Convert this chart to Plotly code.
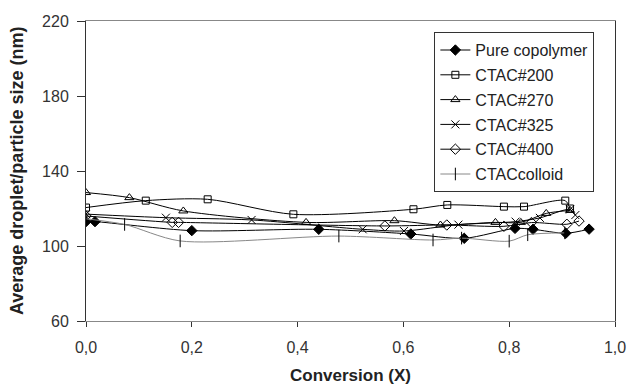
import plotly.graph_objects as go

x_pure = [0.0, 0.017, 0.2, 0.44, 0.614, 0.715, 0.811, 0.845, 0.907, 0.951]
y_pure = [113, 113, 108.2, 108.9, 106.4, 104.1, 109.4, 108.9, 106.8, 109.0]

x_200 = [0.0, 0.113, 0.23, 0.392, 0.619, 0.683, 0.79, 0.828, 0.906, 0.915]
y_200 = [120.5, 124.2, 124.9, 116.9, 119.6, 121.9, 121.0, 121.0, 124.2, 120.0]

x_270 = [0.0, 0.082, 0.184, 0.416, 0.583, 0.67, 0.774, 0.822, 0.87, 0.915]
y_270 = [128.5, 125.8, 118.7, 112.6, 113.5, 111.2, 112.6, 112.6, 117.4, 119.0]

x_325 = [0.0, 0.151, 0.313, 0.523, 0.601, 0.704, 0.812, 0.858, 0.915, 0.925]
y_325 = [117.0, 115.1, 113.9, 108.9, 108.0, 111.4, 113.0, 115.0, 119.5, 116.5]

x_400 = [0.0, 0.163, 0.175, 0.565, 0.682, 0.79, 0.842, 0.909, 0.932]
y_400 = [116.0, 112.6, 112.6, 110.7, 111.2, 110.5, 112.5, 111.6, 113.3]

x_col = [0.0, 0.073, 0.178, 0.478, 0.656, 0.71, 0.8, 0.835, 0.905]
y_col = [114.5, 111.5, 102.7, 105.3, 103.2, 104.2, 102.6, 106.0, 107.0]

x_ticks = [0, 0.2, 0.4, 0.6, 0.8, 1.0]
x_ticktext = ["0,0", "0,2", "0,4", "0,6", "0,8", "1,0"]
y_ticks = [60, 100, 140, 180, 220]

series = [
    ("Pure copolymer", x_pure, y_pure, "diamond", "black", 8, "black"),
    ("CTAC#200", x_200, y_200, "square-open", "black", 7, "black"),
    ("CTAC#270", x_270, y_270, "triangle-up-open", "black", 8, "black"),
    ("CTAC#325", x_325, y_325, "x-thin-open", "black", 8, "black"),
    ("CTAC#400", x_400, y_400, "diamond-open", "black", 8, "black"),
    ("CTACcolloid", x_col, y_col, "line-ns-open", "black", 9, "#888888"),
]

fig = go.Figure()
for name, xs, ys, sym, mc, ms, lc in series:
    fig.add_trace(go.Scatter(
        x=xs, y=ys, name=name, mode="lines+markers", legendgroup=name,
        line=dict(color=lc, width=1, shape="spline", smoothing=0.8),
        marker=dict(symbol=sym, size=ms, color=mc,
                    line=dict(color=mc, width=1)),
    ))

font_family = "Liberation Sans, Arial, sans-serif"
fig.update_layout(
    width=638, height=392,
    margin=dict(l=86, r=15, t=21, b=71),
    paper_bgcolor="white", plot_bgcolor="white",
    font=dict(family=font_family, size=16, color="#333333"),
    showlegend=True,
    legend=dict(
        x=0.961, y=0.963, xanchor="right", yanchor="top",
        bgcolor="white", bordercolor="#333333", borderwidth=1,
        font=dict(size=16, color="#222222"),
        tracegroupgap=1, itemwidth=30,
    ),
    xaxis=dict(
        range=[0, 1.0], tickvals=x_ticks, ticktext=x_ticktext,
        showgrid=False, zeroline=False,
        showline=True, linecolor="#888888", linewidth=1, mirror=True,
        ticks="outside", ticklen=5, tickcolor="#333333",
        ticklabelstandoff=7,
    ),
    yaxis=dict(
        range=[60, 220], tickvals=y_ticks,
        showgrid=False, zeroline=False,
        showline=True, linecolor="#333333", linewidth=1, mirror=True,
        ticks="outside", ticklen=8, tickcolor="#333333",
        ticklabelstandoff=5,
    ),
    annotations=[
        dict(text="<b>Conversion (X)</b>", xref="paper", yref="paper",
             x=0.5, y=0, yshift=-54, xanchor="center", yanchor="middle",
             showarrow=False, font=dict(size=17, color="#222222")),
        dict(text="<b>Average droplet/particle size (nm)</b>", xref="paper", yref="paper",
             x=0, y=0.5, xshift=-69, xanchor="center", yanchor="middle", textangle=-90,
             showarrow=False, font=dict(size=18, color="#222222")),
    ],
)

fig.write_html("out.html")
